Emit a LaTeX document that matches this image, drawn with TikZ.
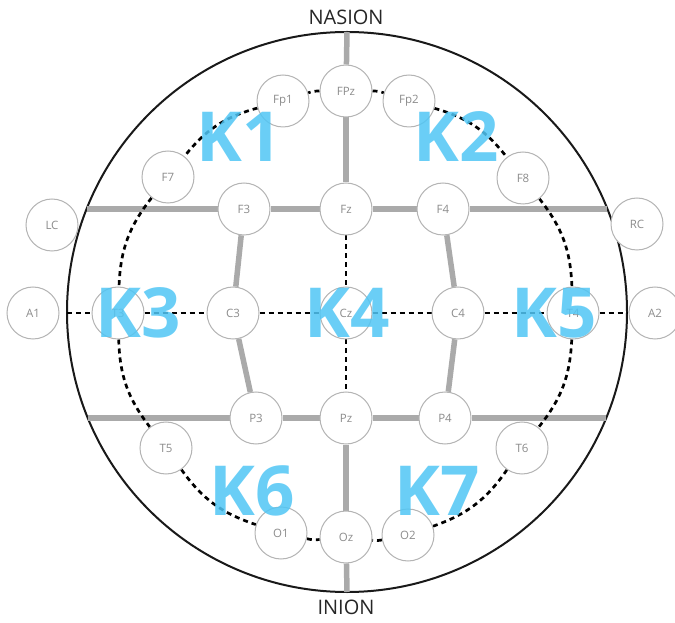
\documentclass[tikz,border=0pt]{standalone}
\usepackage{fontspec}
\setmainfont{Open Sans}
\definecolor{kblue}{RGB}{80,198,245}
\definecolor{lgray}{RGB}{170,170,170}
\definecolor{egray}{RGB}{180,180,180}
\definecolor{tgray}{RGB}{140,140,140}
\pgfdeclarelayer{bg}
\pgfsetlayers{bg,main}
\begin{document}
\begin{tikzpicture}[x=1pt,y=1pt,
  electrode/.style={circle,draw=egray,line width=1pt,fill=white,minimum size=52pt,inner sep=0pt,text=tgray,font=\fontsize{11.5}{12}\selectfont},
  graylink/.style={draw=lgray,line width=5.5pt},
  dashlink/.style={draw=black,line width=2.7pt,dash pattern=on 5pt off 4pt},
  klabel/.style={text=kblue,font=\fontsize{69}{69}\selectfont\bfseries,text opacity=0.85,inner sep=0pt},
  titletext/.style={font=\fontsize{20}{20}\selectfont,text=black!85,inner sep=0pt}]
\useasboundingbox (0,0) rectangle (675,622);
\node[titletext] (nasion) at (346,605) {NASION};
\node[titletext] (inion) at (346,15) {INION};
\begin{scope}[shift={(346,309)}]
  % free ends on the head outline
  \coordinate (headc) at (1,1);
  \coordinate (topN) at (1,281);
  \coordinate (botS) at (1,-279);
  \coordinate (FL) at (-259.4,104);
  \coordinate (FR) at (261.4,104);
  \coordinate (PL) at (-258.2,-105);
  \coordinate (PR) at (260.2,-105);
  \coordinate (ML) at (-279,0);
  \coordinate (MR) at (281,0);
  % electrodes
  \node[electrode] (FPz) at (0,222) {FPz};
  \node[electrode] (Fp1) at (-63,212) {Fp1};
  \node[electrode] (Fp2) at (63,212) {Fp2};
  \node[electrode] (F7) at (-178,136) {F7};
  \node[electrode] (F8) at (177,135) {F8};
  \node[electrode] (LC) at (-294,88) {LC};
  \node[electrode] (RC) at (291,89) {RC};
  \node[electrode] (F3) at (-102,104) {F3};
  \node[electrode] (Fz) at (0,104) {Fz};
  \node[electrode] (F4) at (97,104) {F4};
  \node[electrode] (A1) at (-313,0) {A1};
  \node[electrode] (T3) at (-228,0) {T3};
  \node[electrode] (C3) at (-113,0) {C3};
  \node[electrode] (Cz) at (0,0) {Cz};
  \node[electrode] (C4) at (112,0) {C4};
  \node[electrode] (T4) at (227,0) {T4};
  \node[electrode] (A2) at (309,0) {A2};
  \node[electrode] (P3) at (-90,-105) {P3};
  \node[electrode] (Pz) at (0,-105) {Pz};
  \node[electrode] (P4) at (99,-105) {P4};
  \node[electrode] (T5) at (-180,-135) {T5};
  \node[electrode] (T6) at (176,-135) {T6};
  \node[electrode] (O1) at (-65,-220) {O1};
  \node[electrode] (Oz) at (0,-224) {Oz};
  \node[electrode] (O2) at (62,-222) {O2};
  \begin{pgfonlayer}{bg}
    \draw[line width=2pt,black!90] (headc) circle[radius=280pt];
    % gray links
    \draw[graylink] (topN) -- (FPz);
    \draw[graylink] (FPz) -- (Fz);
    \draw[graylink] (Pz) -- (Oz);
    \draw[graylink] (Oz) -- (botS);
    \draw[graylink] (FL) -- (F3);
    \draw[graylink] (F3) -- (Fz);
    \draw[graylink] (Fz) -- (F4);
    \draw[graylink] (F4) -- (FR);
    \draw[graylink] (PL) -- (P3);
    \draw[graylink] (P3) -- (Pz);
    \draw[graylink] (Pz) -- (P4);
    \draw[graylink] (P4) -- (PR);
    \draw[graylink] (F3) -- (C3);
    \draw[graylink] (C3) -- (P3);
    \draw[graylink] (F4) -- (C4);
    \draw[graylink] (C4) -- (P4);
    % dashed links
    \draw[dashlink] (ML) -- (T3);
    \draw[dashlink] (T3) -- (C3);
    \draw[dashlink] (C3) -- (Cz);
    \draw[dashlink] (Cz) -- (C4);
    \draw[dashlink] (C4) -- (T4);
    \draw[dashlink] (T4) -- (MR);
    \draw[dashlink] (Fz) -- (Cz);
    \draw[dashlink] (Cz) -- (Pz);
    \draw[dashlink] (FPz) to[bend right=9] (Fp1);
    \draw[dashlink] (Fp1) to[bend right=18] (F7);
    \draw[dashlink] (F7) to[bend right=18] (T3);
    \draw[dashlink] (T3) to[bend right=18] (T5);
    \draw[dashlink] (T5) to[bend right=18] (O1);
    \draw[dashlink] (O1) to[bend right=9] (Oz);
    \draw[dashlink] (FPz) to[bend left=9] (Fp2);
    \draw[dashlink] (Fp2) to[bend left=18] (F8);
    \draw[dashlink] (F8) to[bend left=18] (T4);
    \draw[dashlink] (T4) to[bend left=18] (T6);
    \draw[dashlink] (T6) to[bend left=18] (O2);
    \draw[dashlink] (O2) to[bend left=9] (Oz);
  \end{pgfonlayer}
  % region labels
  \node[klabel] (K1) at (-107,176) {K1};
  \node[klabel] (K2) at (110,176) {K2};
  \node[klabel] (K3) at (-208,0) {K3};
  \node[klabel] (K4) at (1,0) {K4};
  \node[klabel] (K5) at (208,0) {K5};
  \node[klabel] (K6) at (-94,-178) {K6};
  \node[klabel] (K7) at (91,-178) {K7};
\end{scope}
\end{tikzpicture}
\end{document}
